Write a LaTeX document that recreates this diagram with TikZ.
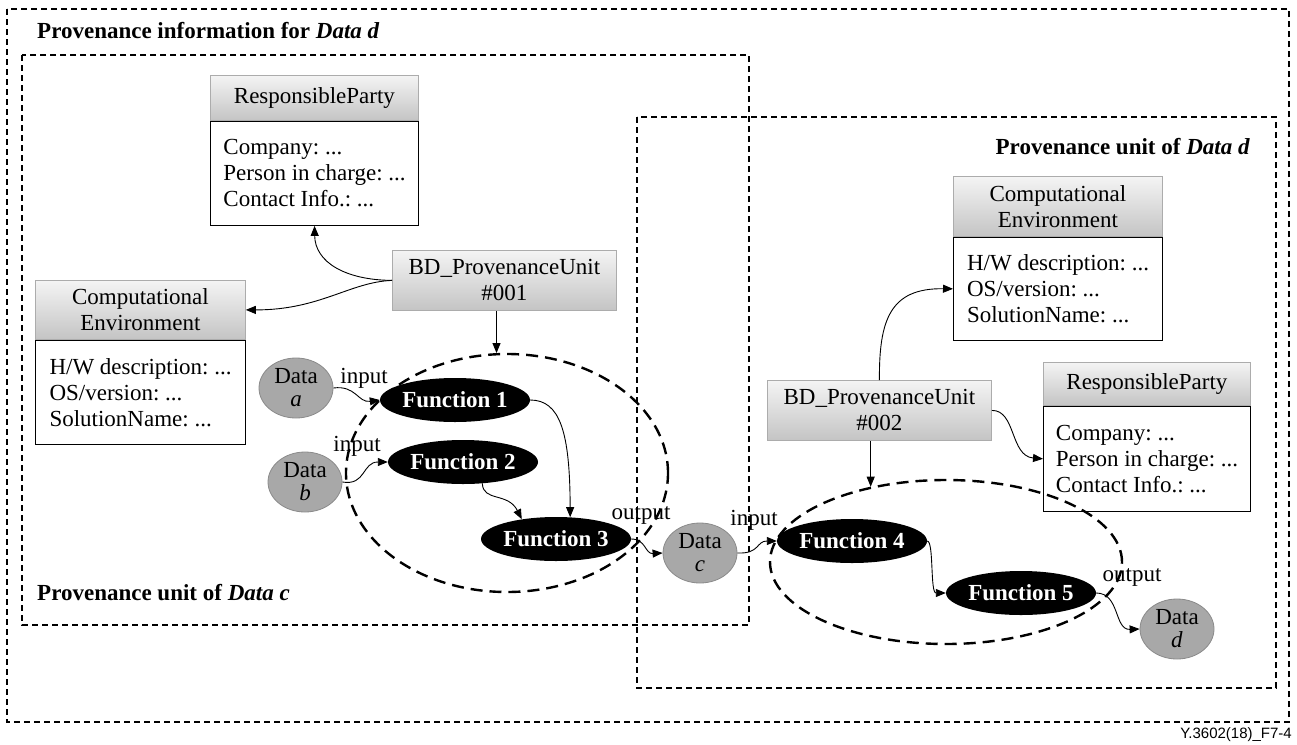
\documentclass[tikz,border=0pt]{standalone}
\usepackage{fontspec}
\setmainfont{Liberation Serif}
\newfontfamily\footfont{Liberation Sans}
\usetikzlibrary{shapes.geometric,arrows.meta}

\definecolor{hdrtop}{HTML}{F4F4F4}
\definecolor{hdrbot}{HTML}{C4C4C4}
\definecolor{hdrline}{HTML}{ACACAC}
\definecolor{datafill}{HTML}{A8A8A8}
\definecolor{dataline}{HTML}{8A8A8A}

\begin{document}
\frenchspacing
\begin{tikzpicture}[x=1pt,y=-1pt,
  every node/.style={font=\fontsize{23}{26}\selectfont, inner sep=0pt},
  frame/.style={draw, line width=1.1pt, dash pattern=on 6pt off 4pt},
  unitring/.style={ellipse, draw, line width=2.4pt, dash pattern=on 12pt off 7pt},
  hdr/.style={draw=hdrline, line width=0.8pt, top color=hdrtop, bottom color=hdrbot,
    align=center, anchor=north west},
  body/.style={draw, line width=1.1pt, fill=white, anchor=north west, align=left},
  func/.style={ellipse, fill=black, text=white, minimum width=150pt, minimum height=44pt,
    font=\fontsize{23}{26}\selectfont\bfseries},
  datum/.style={ellipse, fill=datafill, draw=dataline, line width=0.8pt,
    minimum width=74pt, minimum height=60pt, align=center,
    font=\fontsize{23}{23}\selectfont},
  heading/.style={font=\fontsize{23}{26}\selectfont\bfseries},
  arr/.style={draw, line width=0.9pt, -{Triangle[length=10pt,width=8pt]}}
]
\useasboundingbox (0,0) rectangle (1297,744);

% dashed frames
\draw[frame] (7,9) rectangle (1289,722);
\draw[frame] (22,55) rectangle (749,625);
\draw[frame] (637,117) rectangle (1276,688);

% headings
\node[heading, anchor=west] (ttl) at (37,31) {Provenance information for \textit{Data d}};
\node[heading, anchor=west] (ttlc) at (37,593) {Provenance unit of \textit{Data c}};
\node[heading, anchor=east] (ttld) at (1250,147) {Provenance unit of \textit{Data d}};

% unit #001 side
\node[hdr, minimum width=208pt, minimum height=45pt] (rp1h) at (210,75) {ResponsibleParty};
\node[body, minimum width=208pt, minimum height=104pt] (rp1b) at (rp1h.south west)
  {Company: ...\\Person in charge: ...\\Contact Info.: ...};

\node[hdr, minimum width=210pt, minimum height=59pt] (ce1h) at (35,280) {Computational\\Environment};
\node[body, minimum width=210pt, minimum height=104pt] (ce1b) at (ce1h.south west)
  {H/W description: ...\\OS/version: ...\\SolutionName: ...};

\node[hdr, minimum width=224pt, minimum height=60pt] (bd1) at (392,250) {BD\_ProvenanceUnit\\\#001};

\node[datum] (da) at (296,388) {Data\\\textit{a}};
\node[datum] (db) at (305,482) {Data\\\textit{b}};
\node[func] (f1) at (455,400) {Function 1};
\node[func] (f2) at (463,462) {Function 2};
\node[func] (f3) at (556,539) {Function 3};
\node[datum] (dc) at (700,553) {Data\\\textit{c}};

% unit #002 side
\node[hdr, minimum width=209pt, minimum height=60pt] (ce2h) at (953,176) {Computational\\Environment};
\node[body, minimum width=209pt, minimum height=103pt] (ce2b) at (ce2h.south west)
  {H/W description: ...\\OS/version: ...\\SolutionName: ...};

\node[hdr, minimum width=207pt, minimum height=43pt] (rp2h) at (1043,362) {ResponsibleParty};
\node[body, minimum width=207pt, minimum height=105pt] (rp2b) at (rp2h.south west)
  {Company: ...\\Person in charge: ...\\Contact Info.: ...};

\node[hdr, minimum width=224pt, minimum height=60pt] (bd2) at (767,380) {BD\_ProvenanceUnit\\\#002};

\node[func] (f4) at (852,541) {Function 4};
\node[func] (f5) at (1021,593) {Function 5};
\node[datum] (dd) at (1177,629) {Data\\\textit{d}};

% flow labels
\node (in1) at (364,378) {input};
\node (in2) at (357,446) {input};
\node (out1) at (641,515) {output};
\node (in3) at (754,520) {input};
\node (out2) at (1132,577) {output};

% dashed unit rings
\node[unitring, minimum width=322pt, minimum height=238pt] (ring1) at (507,473) {};
\node[unitring, minimum width=352pt, minimum height=164pt] (ring2) at (946,562) {};

% connectors of unit #001
\draw[arr] (bd1.west) .. controls (345,280) and (315,262) .. (rp1b.south);
\draw[arr] (bd1.west) .. controls (350,282) and (320,310) .. (ce1h.east);
\draw[arr] (bd1.south -| ring1.95) -- (ring1.95);
\draw[arr] (da.east) .. controls (356,385) and (358,403) .. (f1.west);
\draw[arr] (db.east) .. controls (366,486) and (362,462) .. (f2.west);
\draw[arr] (f1.east) .. controls (560,400) and (570,432) .. (f3.57);
\draw[arr] (f2.-48) .. controls (483,502) and (508,492) .. (f3.150);
\draw[arr] (f3.east) .. controls (646,539) and (645,554) .. (dc.west);

% connectors of unit #002
\draw[arr] (dc.east) .. controls (760,554) and (756,541) .. (f4.west);
\draw[arr] (bd2.north) .. controls (879,320) and (890,288) .. (ce2b.west);
\draw[arr] (bd2.east) .. controls (1016,410) and (1010,456) .. (rp2b.west);
\draw[arr] (bd2.south -| ring2.135) -- (ring2.135);
\draw[arr] (f4.east) .. controls (934,541) and (930,593) .. (f5.west);
\draw[arr] (f5.east) .. controls (1120,593) and (1114,630) .. (dd.west);

% figure tag
\node[anchor=east, font=\footfont\fontsize{15}{16}\selectfont] (tag) at (1292,735) {Y.3602(18)\_F7-4};
\end{tikzpicture}
\end{document}
